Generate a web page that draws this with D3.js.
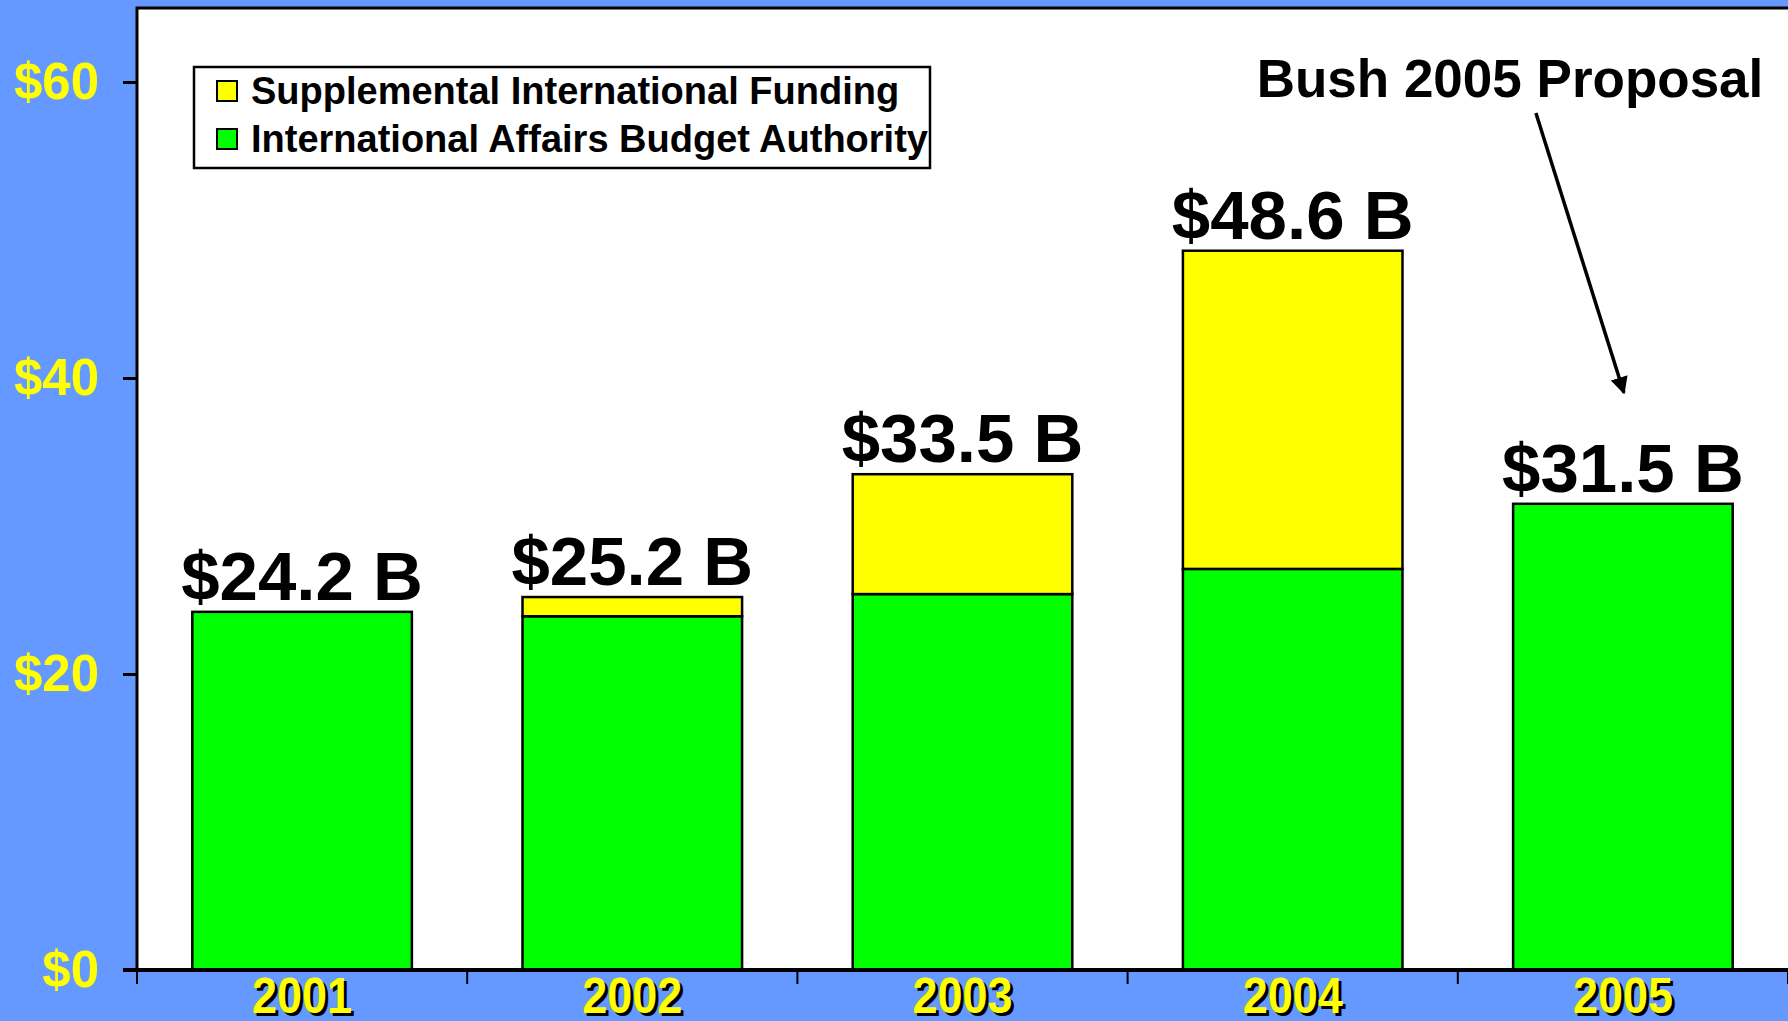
<!DOCTYPE html>
<html>
<head>
<meta charset="utf-8">
<script src="https://cdn.jsdelivr.net/npm/d3@7"></script>
<style>
  html, body { margin: 0; padding: 0; background: #6699ff; overflow: hidden; }
  svg { display: block; }
  text { font-family: "Liberation Sans", Arial, sans-serif; font-weight: bold; }
</style>
</head>
<body>
<div id="chart"></div>
<script>
const years = ["2001", "2002", "2003", "2004", "2005"];
const budgetAuthority = [24.2, 23.9, 25.4, 27.1, 31.5];
const supplemental = [0, 1.3, 8.1, 21.5, 0];
const totalLabels = ["$24.2 B", "$25.2 B", "$33.5 B", "$48.6 B", "$31.5 B"];
const yTicks = [0, 20, 40, 60];
const seriesNames = ["International Affairs Budget Authority", "Supplemental International Funding"];
const seriesColors = ["#00ff00", "#ffff00"];

const w = 1788, h = 1021;
const plotLeft = 137, plotTop = 8, plotBottom = 970;

const svg = d3.select("#chart").append("svg")
  .attr("width", w).attr("height", h);

svg.append("rect").attr("width", w).attr("height", h).attr("fill", "#6699ff");

const x = d3.scaleBand().domain(years).range([plotLeft, 1788]).paddingInner(0.335).paddingOuter(0.1675);
const y = d3.scaleLinear().domain([0, 65]).range([plotBottom, plotTop]);

// plot area
svg.append("rect")
  .attr("x", plotLeft).attr("y", plotTop)
  .attr("width", w - plotLeft + 10).attr("height", plotBottom - plotTop)
  .attr("fill", "#fff").attr("stroke", "#000").attr("stroke-width", 3);

// stacked bars
const rows = years.map((yr, i) => ({year: yr, base: budgetAuthority[i], supp: supplemental[i]}));
const stack = d3.stack().keys(["base", "supp"])(rows);

svg.append("g").selectAll("g")
  .data(stack)
  .join("g")
  .attr("fill", (d, i) => seriesColors[i])
  .selectAll("rect")
  .data(d => d.filter(s => s[1] - s[0] > 0))
  .join("rect")
  .attr("x", d => x(d.data.year))
  .attr("y", d => y(d[1]))
  .attr("width", x.bandwidth())
  .attr("height", d => y(d[0]) - y(d[1]))
  .attr("stroke", "#000")
  .attr("stroke-width", 2.5);

// total labels
svg.append("g").selectAll("text")
  .data(rows)
  .join("text")
  .attr("x", d => x(d.year) + x.bandwidth() / 2)
  .attr("y", d => y(d.base + d.supp) - 12)
  .attr("text-anchor", "middle")
  .attr("font-size", 69)
  .attr("fill", "#000")
  .text((d, i) => totalLabels[i]);

// y axis
const yAxis = d3.axisLeft(y).tickValues(yTicks).tickSize(14).tickPadding(24).tickFormat(d => "$" + d);
const gy = svg.append("g").attr("transform", `translate(${plotLeft},0)`).call(yAxis);
gy.select(".domain").remove();
gy.selectAll(".tick line").attr("stroke", "#000").attr("stroke-width", 3);
gy.selectAll(".tick text")
  .attr("fill", "#ffff00")
  .attr("font-size", 51)
  .attr("font-family", "Liberation Sans, Arial, sans-serif")
  .attr("font-weight", "bold");

// x axis
const step = x.step();
const bounds = years.map(yr => x(yr) - step * x.paddingInner() / 2);
svg.append("line")
  .attr("x1", plotLeft - 14).attr("x2", w)
  .attr("y1", plotBottom).attr("y2", plotBottom)
  .attr("stroke", "#000").attr("stroke-width", 4);
svg.append("g").selectAll("line")
  .data(bounds.concat([bounds[bounds.length - 1] + step]))
  .join("line")
  .attr("x1", d => d).attr("x2", d => d)
  .attr("y1", plotBottom).attr("y2", plotBottom + 14)
  .attr("stroke", "#000").attr("stroke-width", 2);

const xl = svg.append("g");
[["#000", 3], ["#ffff00", 0]].forEach(([col, off]) => {
  xl.append("g").selectAll("text")
    .data(years)
    .join("text")
    .attr("x", d => x(d) + x.bandwidth() / 2 + off)
    .attr("y", 1013 + off)
    .attr("text-anchor", "middle")
    .attr("font-size", 50)
    .attr("textLength", 100)
    .attr("lengthAdjust", "spacingAndGlyphs")
    .attr("fill", col)
    .text(d => d);
});

// legend
const lg = svg.append("g");
lg.append("rect")
  .attr("x", 194).attr("y", 67).attr("width", 736).attr("height", 101)
  .attr("fill", "#fff").attr("stroke", "#000").attr("stroke-width", 2.5);
const legendItems = [1, 0];
lg.selectAll("g.item")
  .data(legendItems)
  .join("g")
  .attr("class", "item")
  .attr("transform", (d, i) => `translate(217,${81 + i * 48})`)
  .each(function(d) {
    const g = d3.select(this);
    g.append("rect").attr("width", 20).attr("height", 20)
      .attr("fill", seriesColors[d]).attr("stroke", "#000").attr("stroke-width", 2);
    g.append("text").attr("x", 34).attr("y", 23)
      .attr("font-size", 38).attr("fill", "#000")
      .text(seriesNames[d]);
  });

// annotation
const tipX = x("2005") + x.bandwidth() / 2 + 1;
const tipY = y(39);
const startX = tipX - 88, startY = y(57.9);
svg.append("defs").append("marker")
  .attr("id", "arrow").attr("viewBox", "0 0 10 10")
  .attr("refX", 9).attr("refY", 5)
  .attr("markerWidth", 5).attr("markerHeight", 6)
  .attr("orient", "auto")
  .append("path").attr("d", "M0,0 L10,5 L0,10 Z").attr("fill", "#000");
svg.append("line")
  .attr("x1", startX).attr("y1", startY)
  .attr("x2", tipX).attr("y2", tipY)
  .attr("stroke", "#000").attr("stroke-width", 3.5)
  .attr("marker-end", "url(#arrow)");
svg.append("text")
  .attr("x", 1510).attr("y", 97)
  .attr("text-anchor", "middle")
  .attr("font-size", 53).attr("fill", "#000")
  .text("Bush 2005 Proposal");
</script>
</body>
</html>
